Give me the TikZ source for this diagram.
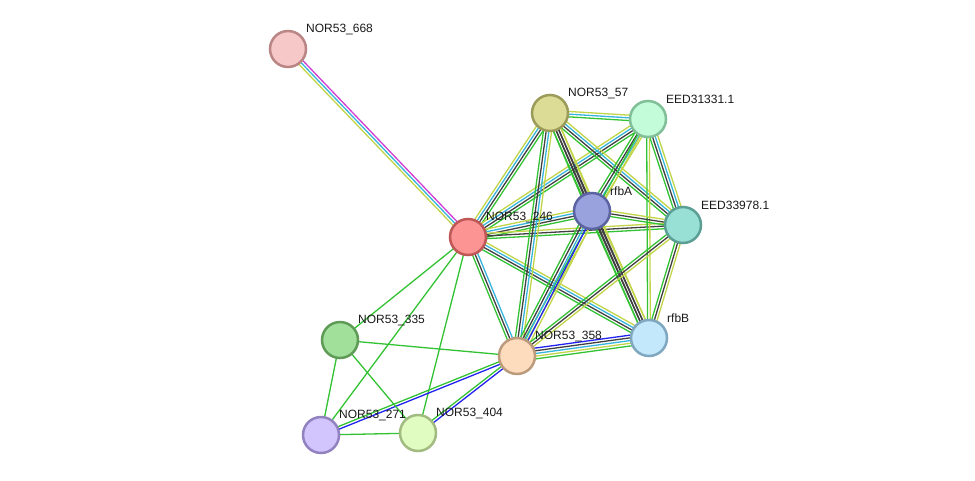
\documentclass[tikz,border=0pt]{standalone}
\usepackage{fontspec}
\setmainfont{Liberation Sans}
\usetikzlibrary{calc}
\pgfdeclarelayer{bg}
\pgfsetlayers{bg,main}
\definecolor{sg}{HTML}{33C233}
\definecolor{sk}{HTML}{404040}
\definecolor{sc}{HTML}{36B4DC}
\definecolor{sy}{HTML}{C2D448}
\definecolor{sb}{HTML}{2222F0}
\definecolor{sm}{HTML}{D23CD2}
\tikzset{
  prot/.style={circle, minimum size=36pt, inner sep=0pt, line width=2.5pt},
  plabel/.style={anchor=west, inner sep=0pt, font=\fontsize{12}{14}\selectfont, text=black!90},
}
\newcommand\prot[6]{%
  \definecolor{f#1}{HTML}{#4}%
  \definecolor{d#1}{HTML}{#5}%
  \node[prot, fill=f#1, draw=d#1] (#1) at (#2,#3) {};
  \node[plabel] (l#1) at ($(#1)+(18,-20)$) {#6};
}
\newcommand\edg[4]{%
  \foreach \c [count=\i] in {#4} {%
    \pgfmathsetmacro\off{(\i-(#3+1)/2)*2.7}%
    \draw[line width=1.3pt, draw=\c] ($(#1)!\off pt!90:(#2)$) -- ($(#2)!\off pt!-90:(#1)$);
  }%
}
\begin{document}
\begin{tikzpicture}[x=1pt,y=-1pt]
\useasboundingbox (0,0) rectangle (975,480);
\prot{n668}{288}{49}{F7C8C8}{B98585}{NOR53\_668}
\prot{n246}{468}{237}{FC9494}{C05757}{NOR53\_246}
\prot{n57}{550}{113}{DCDC96}{9B9B5A}{NOR53\_57}
\prot{e31}{648}{119}{C2FCD8}{80BF97}{EED31331.1}
\prot{rfbA}{592}{211}{9AA2DE}{5B63A1}{rfbA}
\prot{e33}{683}{225}{98DFD5}{5B9E94}{EED33978.1}
\prot{rfbB}{649}{338}{C3E7FB}{7FA7BF}{rfbB}
\prot{n358}{517}{356}{FDDCBE}{BB9B7B}{NOR53\_358}
\prot{n335}{340}{340}{A1E09A}{5F9B57}{NOR53\_335}
\prot{n271}{321}{435}{D2C4FC}{9282C0}{NOR53\_271}
\prot{n404}{418}{433}{E1FCC0}{A1BB80}{NOR53\_404}
\begin{pgfonlayer}{bg}
\edg{n668}{n246}{3}{sy,sc,sm}
\edg{n246}{n57}{4}{sg,sk,sc,sy}
\edg{n246}{e31}{4}{sg,sk,sc,sy}
\edg{n246}{rfbA}{4}{sg,sk,sc,sy}
\edg{n246}{e33}{3}{sg,sk,sy}
\edg{n246}{rfbB}{4}{sg,sk,sc,sy}
\edg{n246}{n358}{3}{sg,sk,sc}
\edg{n246}{n335}{1}{sg}
\edg{n246}{n271}{1}{sg}
\edg{n246}{n404}{1}{sg}
\edg{n57}{e31}{3}{sg,sc,sy}
\edg{n57}{rfbA}{4}{sg,sk,sk,sy}
\edg{n57}{e33}{4}{sg,sk,sc,sy}
\edg{n57}{n358}{4}{sg,sk,sc,sy}
\edg{n57}{rfbB}{4}{sg,sk,sk,sy}
\edg{e31}{rfbA}{4}{sg,sk,sc,sy}
\edg{e31}{e33}{4}{sg,sk,sc,sy}
\edg{e31}{n358}{2}{sg,sy}
\edg{e31}{rfbB}{2}{sg,sy}
\edg{rfbA}{e33}{3}{sg,sk,sy}
\edg{rfbA}{rfbB}{4}{sg,sk,sk,sy}
\edg{rfbA}{n358}{5}{sg,sk,sc,sb,sy}
\edg{e33}{rfbB}{3}{sg,sk,sy}
\edg{e33}{n358}{3}{sg,sk,sy}
\edg{rfbB}{n358}{5}{sb,sk,sc,sy,sg}
\edg{n358}{n335}{1}{sg}
\edg{n358}{n271}{2}{sg,sb}
\edg{n358}{n404}{2}{sg,sb}
\edg{n335}{n271}{1}{sg}
\edg{n335}{n404}{1}{sg}
\edg{n271}{n404}{1}{sg}
\end{pgfonlayer}
\end{tikzpicture}
\end{document}
